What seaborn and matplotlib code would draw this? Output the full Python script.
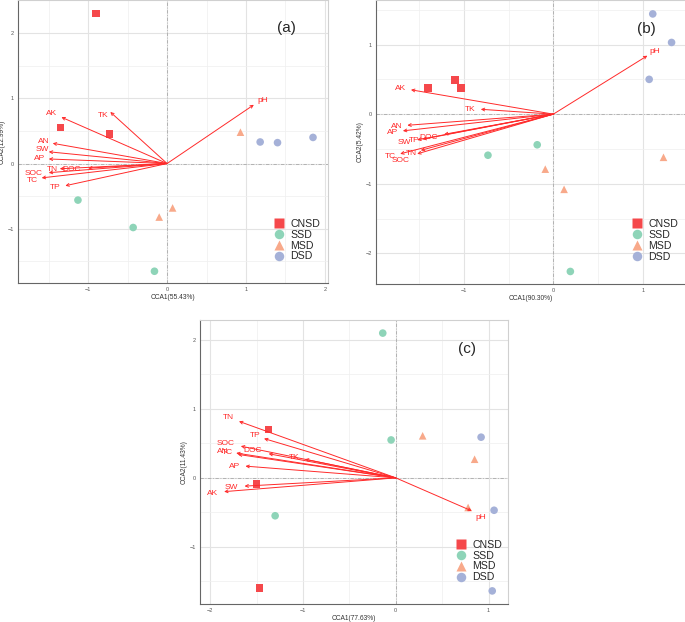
import pandas as pd
import matplotlib.pyplot as plt
import matplotlib.ticker as mticker
import seaborn as sns

# grupe i boje
groups = ['CNSD', 'SSD', 'MSD', 'DSD']
group_colors = {'CNSD': '#f5484b', 'SSD': '#8ed4b8', 'MSD': '#f8a98a', 'DSD': '#a5b1d8'}
group_markers = {'CNSD': 's', 'SSD': 'o', 'MSD': '^', 'DSD': 'o'}
sample_group = ['CNSD'] * 3 + ['SSD'] * 3 + ['MSD'] * 3 + ['DSD'] * 3

# (a)
a_cca1 = [-0.90, -1.35, -0.73, -1.13, -0.43, -0.16, 0.93, 0.07, -0.10, 1.18, 1.40, 1.85]
a_cca2 = [2.30, 0.55, 0.45, -0.56, -0.98, -1.65, 0.48, -0.68, -0.82, 0.33, 0.32, 0.40]
a_env = ['pH', 'AK', 'TK', 'AN', 'SW', 'AP', 'TN', 'DOC', 'SOC', 'TC', 'TP']
a_env_x = [1.10, -1.34, -0.72, -1.45, -1.50, -1.50, -1.36, -1.00, -1.50, -1.59, -1.29]
a_env_y = [0.90, 0.71, 0.79, 0.31, 0.18, 0.07, -0.08, -0.07, -0.14, -0.22, -0.34]
a_lab_x = [1.21, -1.46, -0.81, -1.57, -1.58, -1.61, -1.46, -1.21, -1.69, -1.71, -1.42]
a_lab_y = [0.97, 0.76, 0.73, 0.34, 0.21, 0.08, -0.09, -0.09, -0.16, -0.26, -0.37]

# (b)
b_cca1 = [-1.40, -1.10, -1.03, -0.73, -0.18, 0.19, -0.09, 0.12, 1.23, 1.11, 1.32, 1.07]
b_cca2 = [0.38, 0.49, 0.38, -0.59, -0.44, -2.26, -0.79, -1.08, -0.62, 1.44, 1.03, 0.50]
b_env = ['pH', 'AK', 'TK', 'AN', 'AP', 'DOC', 'SW', 'TP', 'TN', 'TC', 'SOC']
b_env_x = [1.05, -1.59, -0.81, -1.63, -1.68, -1.22, -1.52, -1.46, -1.48, -1.71, -1.52]
b_env_y = [0.84, 0.35, 0.07, -0.16, -0.24, -0.29, -0.37, -0.36, -0.52, -0.57, -0.57]
b_lab_x = [1.13, -1.71, -0.93, -1.75, -1.79, -1.39, -1.66, -1.55, -1.58, -1.82, -1.71]
b_lab_y = [0.90, 0.37, 0.07, -0.18, -0.27, -0.33, -0.41, -0.38, -0.57, -0.61, -0.67]

# (c)
c_cca1 = [-1.37, -1.50, -1.47, -0.14, -0.05, -1.30, 0.29, 0.85, 0.78, 0.92, 1.06, 1.04]
c_cca2 = [0.70, -0.09, -1.60, 2.10, 0.55, -0.55, 0.61, 0.27, -0.43, 0.59, -0.47, -1.64]
c_env = ['pH', 'TN', 'TP', 'SOC', 'AN', 'TC', 'DOC', 'TK', 'AP', 'SW', 'AK']
c_env_x = [0.82, -1.69, -1.42, -1.67, -1.72, -1.70, -1.37, -0.98, -1.62, -1.63, -1.85]
c_env_y = [-0.48, 0.82, 0.57, 0.46, 0.36, 0.34, 0.35, 0.27, 0.17, -0.12, -0.20]
c_lab_x = [0.92, -1.80, -1.52, -1.83, -1.86, -1.81, -1.54, -1.09, -1.74, -1.77, -1.97]
c_lab_y = [-0.57, 0.87, 0.61, 0.50, 0.38, 0.37, 0.39, 0.30, 0.17, -0.14, -0.22]

arrow_color = '#ff2a2a'


def crtaj_panel(ax, cca1, cca2, env, env_x, env_y, lab_x, lab_y,
                xlim, ylim, xlabel, ylabel, slovo, slovo_xy, leg_xy):
    ax.set_xlim(xlim)
    ax.set_ylim(ylim)
    # mreza kao u ggplot
    ax.xaxis.set_major_locator(mticker.MultipleLocator(1))
    ax.yaxis.set_major_locator(mticker.MultipleLocator(1))
    ax.xaxis.set_minor_locator(mticker.MultipleLocator(0.5))
    ax.yaxis.set_minor_locator(mticker.MultipleLocator(0.5))
    ax.grid(which='major', color='#e3e3e3', lw=0.8, zorder=0)
    ax.grid(which='minor', color='#efefef', lw=0.5, zorder=0)
    ax.set_axisbelow(True)
    ax.axhline(0, color='#aaaaaa', lw=0.6, ls=(0, (4, 2, 1, 2)), zorder=1)
    ax.axvline(0, color='#aaaaaa', lw=0.6, ls=(0, (4, 2, 1, 2)), zorder=1)

    df = pd.DataFrame({'CCA1': cca1, 'CCA2': cca2, 'group': sample_group})
    sns.scatterplot(data=df, x='CCA1', y='CCA2', hue='group', style='group',
                    hue_order=groups, style_order=groups, palette=group_colors,
                    markers=group_markers, s=30, edgecolor='none', ax=ax, zorder=3)

    for name, x, y, lx, ly in zip(env, env_x, env_y, lab_x, lab_y):
        ax.annotate('', xy=(x, y), xytext=(0, 0),
                    arrowprops=dict(arrowstyle='->', color=arrow_color, lw=0.7,
                                    shrinkA=0, shrinkB=0, mutation_scale=5),
                    zorder=4)
        ax.text(lx, ly, name, color=arrow_color, fontsize=6,
                ha='center', va='center', zorder=5)

    ax.text(slovo_xy[0], slovo_xy[1], slovo, fontsize=11, ha='center', va='center')

    ax.set_xlabel(xlabel, fontsize=4.8, color='#333333', labelpad=1)
    ax.set_ylabel(ylabel, fontsize=4.8, color='#333333', labelpad=1)
    ax.tick_params(which='major', labelsize=4, colors='#555555', length=2, width=0.5, pad=1)
    ax.tick_params(which='minor', length=0)
    for s in ax.spines.values():
        s.set_color('#d0d0d0')
        s.set_linewidth(0.8)
    ax.spines['left'].set_color('#666666')
    ax.spines['bottom'].set_color('#666666')

    sns.move_legend(ax, 'upper left', bbox_to_anchor=leg_xy, title=None,
                    frameon=False, fontsize=7.6, borderpad=0, handletextpad=0.45,
                    labelspacing=0.08, markerscale=1.25, handlelength=1.2)


sns.set_style('white')
plt.rcParams['font.family'] = ['Liberation Sans', 'DejaVu Sans']

fig = plt.figure(figsize=(6.85, 6.22), dpi=100)
ax_a = fig.add_axes([18 / 685, 1 - 283 / 622, 310 / 685, 283 / 622])
ax_b = fig.add_axes([376 / 685, 1 - 284 / 622, 309 / 685, 284 / 622])
ax_c = fig.add_axes([200 / 685, 1 - 604 / 622, 308 / 685, 284 / 622])

crtaj_panel(ax_a, a_cca1, a_cca2, a_env, a_env_x, a_env_y, a_lab_x, a_lab_y,
            (-1.89, 2.04), (-1.83, 2.505), 'CCA1(55.43%)', 'CCA2(12.99%)',
            '(a)', (1.515, 2.08), (0.805, 0.245))
crtaj_panel(ax_b, b_cca1, b_cca2, b_env, b_env_x, b_env_y, b_lab_x, b_lab_y,
            (-1.98, 1.47), (-2.44, 1.64), 'CCA1(90.30%)', 'CCA2(5.42%)',
            '(b)', (1.04, 1.23), (0.808, 0.247))
ax_b.spines['right'].set_visible(False)
crtaj_panel(ax_c, c_cca1, c_cca2, c_env, c_env_x, c_env_y, c_lab_x, c_lab_y,
            (-2.11, 1.21), (-1.83, 2.29), 'CCA1(77.63%)', 'CCA2(11.43%)',
            '(c)', (0.77, 1.87), (0.81, 0.245))

fig.savefig('out.png', dpi=100)
